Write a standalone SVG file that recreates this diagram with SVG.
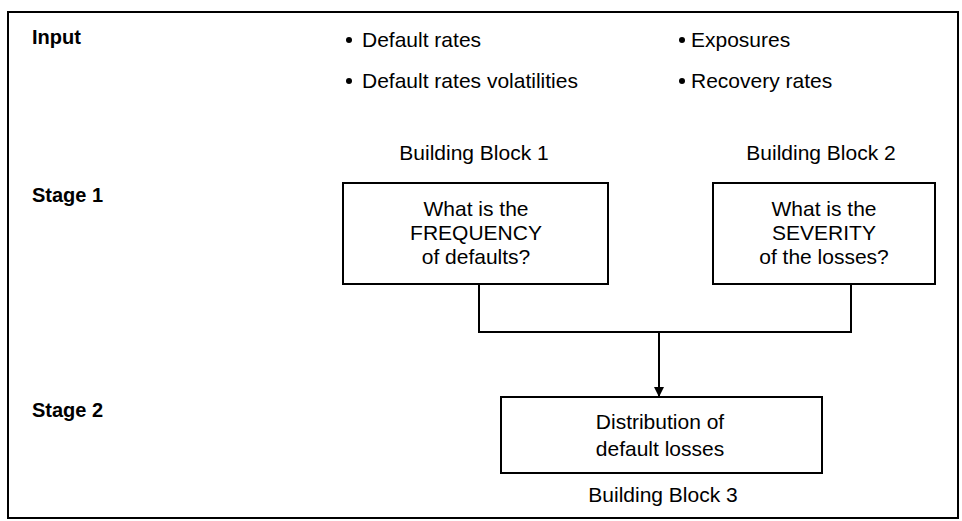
<svg xmlns="http://www.w3.org/2000/svg" width="962" height="521" viewBox="0 0 962 521">
<defs>
<style>
.t{font-family:"Liberation Sans",Arial,sans-serif;font-size:21px;fill:#000}
.b{font-family:"Liberation Sans",Arial,sans-serif;font-size:20px;font-weight:bold;fill:#000}
.c{text-anchor:middle}
.box{fill:#fff;stroke:#000;stroke-width:2}
.ln{fill:none;stroke:#000;stroke-width:2}
</style>
<marker id="arr" viewBox="0 0 10 10" refX="10" refY="5" markerWidth="10" markerHeight="10" markerUnits="userSpaceOnUse" orient="auto">
<path d="M0,0 L10,5 L0,10 z" fill="#000"/>
</marker>
</defs>
<rect width="962" height="521" fill="#fff"/>
<rect id="frame" x="8" y="12" width="950" height="506" class="ln"/>
<g id="labels">
<text class="b" x="32" y="44">Input</text>
<text class="b" x="32" y="202">Stage 1</text>
<text class="b" x="32" y="417">Stage 2</text>
</g>
<g id="inputs">
<circle cx="349" cy="40" r="3" fill="#000"/>
<text class="t" x="362" y="47">Default rates</text>
<circle cx="349" cy="81" r="3" fill="#000"/>
<text class="t" x="362" y="88">Default rates volatilities</text>
<circle cx="682" cy="40" r="3" fill="#000"/>
<text class="t" x="691" y="47">Exposures</text>
<circle cx="682" cy="81" r="3" fill="#000"/>
<text class="t" x="691" y="88">Recovery rates</text>
</g>
<g id="connectors">
<path class="ln" d="M479,284 V332 H851 V284"/>
<path class="ln" d="M659,332 V397" marker-end="url(#arr)"/>
</g>
<g id="block1">
<text class="t c" x="474" y="160">Building Block 1</text>
<rect class="box" x="343" y="183" width="265" height="101"/>
<text class="t c" x="476" y="216">What is the</text>
<text class="t c" x="476" y="240">FREQUENCY</text>
<text class="t c" x="476" y="264">of defaults?</text>
</g>
<g id="block2">
<text class="t c" x="821" y="160">Building Block 2</text>
<rect class="box" x="713" y="183" width="222" height="101"/>
<text class="t c" x="824" y="216">What is the</text>
<text class="t c" x="824" y="240">SEVERITY</text>
<text class="t c" x="824" y="264">of the losses?</text>
</g>
<g id="block3">
<rect class="box" x="501" y="397" width="321" height="76"/>
<text class="t c" x="660" y="429">Distribution of</text>
<text class="t c" x="660" y="456">default losses</text>
<text class="t c" x="663" y="502">Building Block 3</text>
</g>
</svg>
